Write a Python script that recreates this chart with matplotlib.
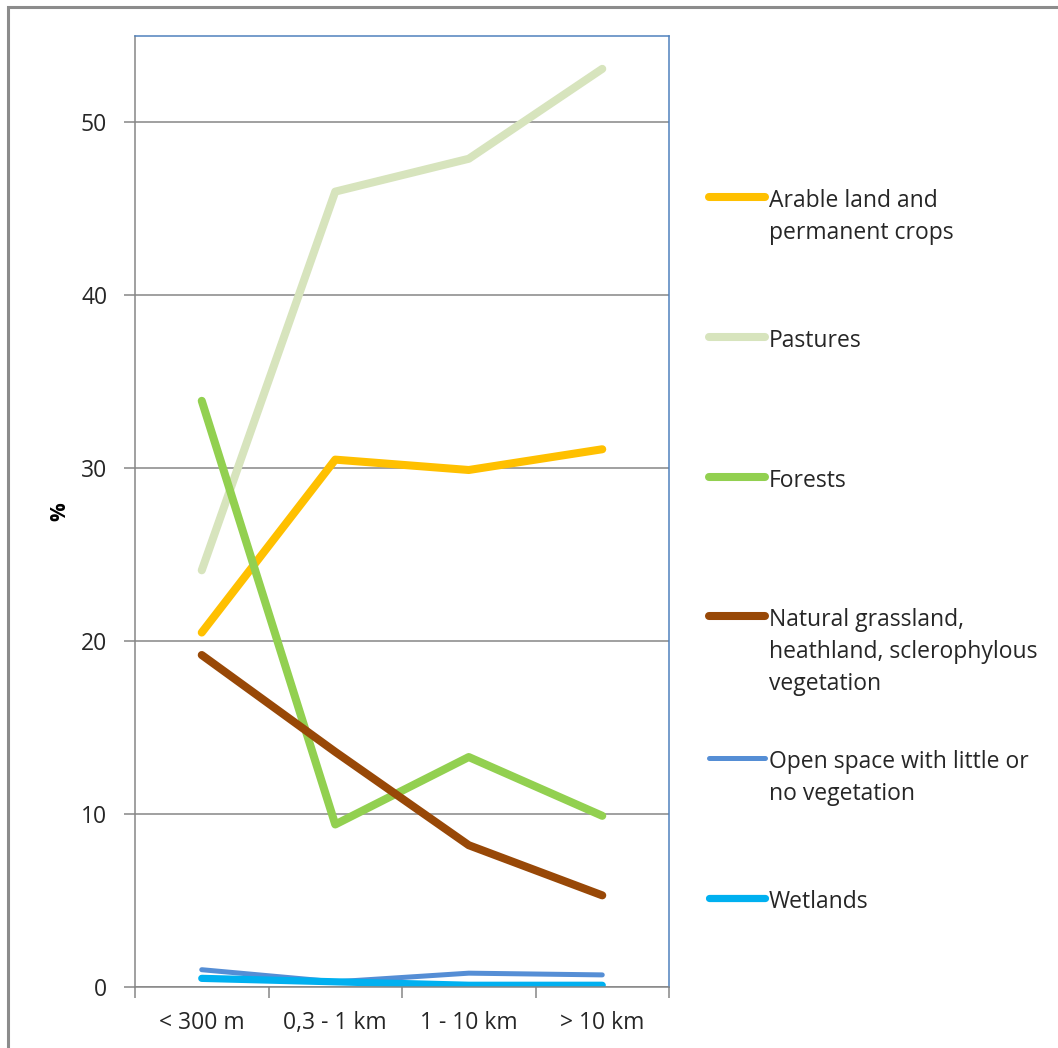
import matplotlib.pyplot as plt
from matplotlib.lines import Line2D
from matplotlib.patches import Rectangle

categories = ["< 300 m", "0,3 - 1 km", "1 - 10 km", "> 10 km"]

arable = [20.5, 30.5, 29.9, 31.1]
pastures = [24.1, 46.0, 47.9, 53.1]
forests = [33.9, 9.4, 13.3, 9.9]
grassland = [19.2, 13.6, 8.2, 5.3]
open_space = [1.0, 0.3, 0.8, 0.7]
wetlands = [0.5, 0.3, 0.1, 0.1]

series = [
    ("Arable land and\npermanent crops", arable, "#FFC000", 5.8),
    ("Pastures", pastures, "#D7E4BD", 5.8),
    ("Forests", forests, "#92D050", 5.8),
    ("Natural grassland,\nheathland, sclerophylous\nvegetation", grassland, "#984807", 5.8),
    ("Open space with little or\nno vegetation", open_space, "#558ED5", 3.6),
    ("Wetlands", wetlands, "#00B0F0", 5.2),
]
# legend rows (figure y of first text line), in pixels from top
legend_y = [197, 337, 477, 616, 758, 898]

plt.rcParams['font.family'] = ['Open Sans', 'DejaVu Sans']

W, H = 1058, 1048
fig = plt.figure(figsize=(W / 100, H / 100), dpi=100)
fig.patches.append(Rectangle((8 / W, -0.1), 1.2, 1 - 7 / H + 0.1, transform=fig.transFigure,
                             fill=False, edgecolor="#8c8c8c", linewidth=2.2))

ax = fig.add_axes([135 / W, 1 - 987 / H, (669 - 135) / W, (987 - 36) / H])
x = range(len(categories))
for name, vals, col, lw in series:
    ax.plot(x, vals, color=col, linewidth=lw, solid_capstyle="round", solid_joinstyle="round")

ax.set_xlim(-0.5, 3.5)
ax.set_ylim(0, 55)
ax.set_yticks([0, 10, 20, 30, 40, 50])
ax.yaxis.grid(True, color="#868686", linewidth=1.1)
ax.set_axisbelow(True)
ax.set_xticks([-0.5, 0.5, 1.5, 2.5, 3.5])
ax.set_xticklabels([])
ax.set_xticks(list(x), minor=True)
ax.set_xticklabels(categories, minor=True)
ax.tick_params(axis="x", which="major", length=8, width=1.1, color="#868686", direction="out")
ax.tick_params(axis="x", which="minor", length=0, pad=17, labelsize=16.5, labelcolor="#262626")
ax.tick_params(axis="y", length=8, width=1.1, color="#868686", labelsize=16.5,
               labelcolor="#262626", pad=12)
for s in ["left", "bottom"]:
    ax.spines[s].set_color("#868686")
    ax.spines[s].set_linewidth(1.1)
for s in ["top", "right"]:
    ax.spines[s].set_color("#4F81BD")
    ax.spines[s].set_linewidth(1.1)

ax.set_ylabel("%", fontsize=15, fontweight="bold")
ax.yaxis.set_label_coords((70 - 135) / 534, 0.5)

for (name, vals, col, lw), yy in zip(series, legend_y):
    fy = 1 - yy / H
    fig.add_artist(Line2D([709 / W, 765 / W], [fy, fy], transform=fig.transFigure,
                          color=col, linewidth=lw, solid_capstyle="round"))
    fig.text(769 / W, fy + 8 / H, name, fontsize=16.5, color="#262626", va="top",
             linespacing=1.45, transform=fig.transFigure)

fig.savefig("out.png", dpi=100)
